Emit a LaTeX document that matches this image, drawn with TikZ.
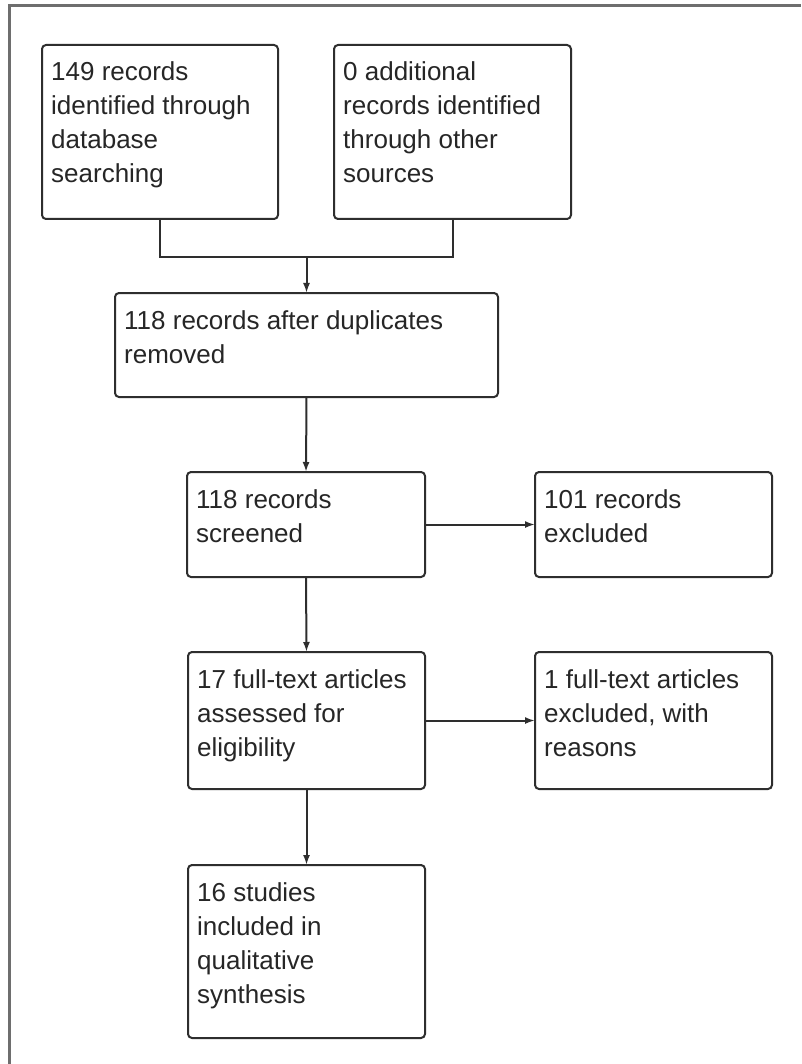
\documentclass[tikz,border=0pt]{standalone}
\usepackage{fontspec}
\setmainfont{Liberation Sans}
\usetikzlibrary{arrows.meta,calc}
\definecolor{frameGray}{HTML}{6E6E6E}
\definecolor{boxLine}{HTML}{2E2E2E}
\definecolor{txtCol}{HTML}{262626}
\tikzset{
  stagebox/.style={draw=boxLine, line width=2pt, rounded corners=4pt, inner sep=0pt, outer sep=0pt, anchor=north west, fill=white},
  boxtext/.style={anchor=base west, inner sep=0pt, align=left, text=txtCol, font=\fontsize{26}{34}\selectfont},
  conn/.style={draw=boxLine, line width=2pt},
  arr/.style={conn, -{Latex[length=10pt,width=7pt]}}
}
\begin{document}
\begin{tikzpicture}[x=1pt,y=-1pt]
\useasboundingbox (0,0) rectangle (801,1064);
\fill[white] (0,0) rectangle (801,1064);
\draw[frameGray, line width=3pt] (9,1064) -- (9,6) -- (801,6);

% boxes
\node[stagebox, minimum width=236pt, minimum height=174pt] (b1) at (42,45) {};
\node[stagebox, minimum width=237pt, minimum height=174pt] (b2) at (334,45) {};
\node[stagebox, minimum width=383pt, minimum height=104pt] (b3) at (115,293) {};
\node[stagebox, minimum width=238pt, minimum height=105pt] (b4) at (187,472) {};
\node[stagebox, minimum width=237pt, minimum height=105pt] (b5) at (535,472) {};
\node[stagebox, minimum width=237pt, minimum height=137pt] (b6) at (188,652) {};
\node[stagebox, minimum width=237pt, minimum height=137pt] (b7) at (535,652) {};
\node[stagebox, minimum width=237pt, minimum height=173pt] (b8) at (188,865) {};

% texts (anchor base = baseline of last line)
\node[boxtext] (t1) at ($(b1.north west)+(9,138)$) {149 records\\identified through\\database\\searching};
\node[boxtext] (t2) at ($(b2.north west)+(9,138)$) {0 additional\\records identified\\through other\\sources};
\node[boxtext] (t3) at ($(b3.north west)+(9,70)$) {118 records after duplicates\\removed};
\node[boxtext] (t4) at ($(b4.north west)+(9,70)$) {118 records\\screened};
\node[boxtext] (t5) at ($(b5.north west)+(9,70)$) {101 records\\excluded};
\node[boxtext] (t6) at ($(b6.north west)+(9,104)$) {17 full-text articles\\assessed for\\eligibility};
\node[boxtext] (t7) at ($(b7.north west)+(9,104)$) {1 full-text articles\\excluded, with\\reasons};
\node[boxtext] (t8) at ($(b8.north west)+(9,138)$) {16 studies\\included in\\qualitative\\synthesis};

% connectors
\coordinate (j1) at ($(b1.south)+(0,38)$);
\coordinate (j2) at ($(b2.south)+(0,38)$);
\coordinate (jm) at (b3.north |- j1);
\draw[conn] (b1.south) -- (j1) -- (j2) -- (b2.south);
\draw[arr] (jm) -- (b3.north);
\draw[arr] (b3.south) -- (b4.north);
\draw[arr] (b4.east) -- (b5.west);
\draw[arr] (b4.south) -- (b6.north);
\draw[arr] (b6.east) -- (b7.west);
\draw[arr] (b6.south) -- (b8.north);
\end{tikzpicture}
\end{document}
